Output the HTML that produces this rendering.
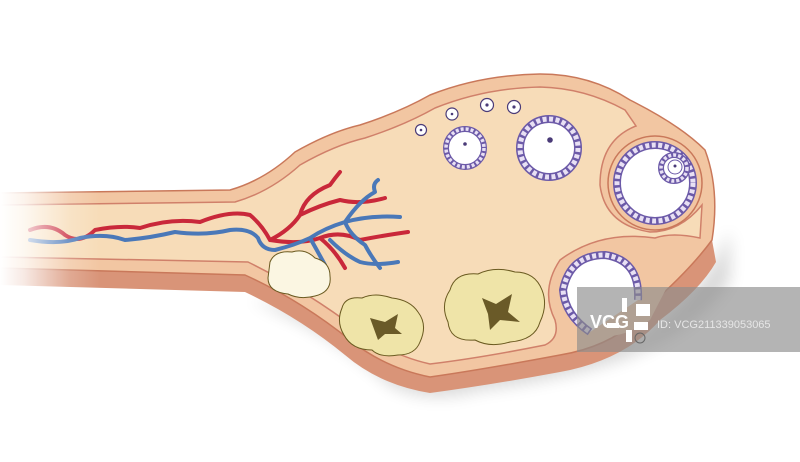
<!DOCTYPE html>
<html><head><meta charset="utf-8"><style>
html,body{margin:0;padding:0;background:#fff;width:800px;height:462px;overflow:hidden}
svg{display:block}
</style></head><body>
<svg width="800" height="462" viewBox="0 0 800 462" xmlns="http://www.w3.org/2000/svg">
<defs>
<linearGradient id="fade" x1="0" x2="1" y1="0" y2="0">
<stop offset="0" stop-color="#fff" stop-opacity="1"/>
<stop offset="0.12" stop-color="#fff" stop-opacity="0.8"/>
<stop offset="0.35" stop-color="#fff" stop-opacity="0.2"/>
<stop offset="0.5" stop-color="#fff" stop-opacity="0"/>
</linearGradient>
<filter id="sh" x="-10%" y="-10%" width="130%" height="140%"><feGaussianBlur stdDeviation="8"/></filter>
</defs>
<path d="M250 300 Q330 330 390 385 Q430 405 480 390 Q560 380 620 360 Q700 330 730 280 L730 230 Q700 300 640 340 Z" fill="#000" opacity="0.15" filter="url(#sh)"/>
<path d="M0 268 L245 275 Q300 300 350 340 Q385 368 430 377 Q480 370 560 355 Q620 345 650 305 Q690 270 712 240 L716 262 Q700 290 660 320 Q625 360 560 372 Q490 385 430 393 Q380 385 345 355 Q300 318 245 292 L0 285 Z" fill="#d99478"/>
<path d="M0 193 L230 190 Q265 180 295 152 Q330 132 360 125 Q400 112 430 95 Q480 75 540 74 Q590 74 630 100 Q680 125 705 150 Q720 190 712 240 Q690 270 650 305 Q620 345 560 355 Q480 370 430 377 Q385 368 350 340 Q300 300 245 275 L0 268 Z" fill="#f2c6a2" stroke="#c9785a" stroke-width="1.5"/>
<path d="M0 205 L235 202 Q270 192 300 165 Q335 145 365 138 Q405 125 435 108 Q485 88 540 87 Q585 88 625 110 L636 126 Q600 140 600 185 Q605 225 650 232 Q680 232 702 205 L700 238 Q672 232 655 238 Q600 230 560 260 Q540 290 555 320 Q560 338 545 345 Q480 358 430 364 Q390 355 358 330 Q305 290 248 262 L0 257 Z" fill="#f7dcb8" stroke="#d0806a" stroke-width="1.5"/>
<circle cx="655" cy="183" r="47" fill="#f2c6a2" stroke="#c9785a" stroke-width="1.5"/>
<path d="M600 258 Q640 235 680 262 L650 320 Q620 340 600 335 Z" fill="#f2c6a2"/>
<g fill="none" stroke-linecap="round" stroke-linejoin="round">
<path d="M30 230 Q50 222 65 235 Q80 245 95 230 Q120 225 140 228 Q170 218 200 222 Q230 210 250 215 Q262 225 270 240 Q290 230 300 215 Q320 205 340 200 Q360 205 385 198 M300 215 Q305 195 330 185 Q335 178 340 172 M270 240 Q300 245 320 238 Q340 230 360 240 Q380 236 408 232 M320 238 Q335 250 345 268" stroke="#c9283a" stroke-width="4"/>
<path d="M30 240 Q60 245 80 238 Q105 233 125 240 Q150 238 175 232 Q205 236 230 230 Q250 228 258 238 Q262 250 275 250 Q295 245 310 238 Q325 228 345 222 Q370 215 400 217 M310 238 Q318 252 325 265 M345 222 Q350 235 365 245 Q372 258 380 268 M345 222 Q360 200 375 192 Q372 184 378 180 M330 240 Q345 255 360 262 Q375 266 398 262" stroke="#4a78b8" stroke-width="4"/>
</g>
<g fill="#fff" stroke="#4a3b78" stroke-width="1.2">
<circle cx="421" cy="130" r="5.5"/><circle cx="452" cy="114" r="6"/><circle cx="487" cy="105" r="6.5"/><circle cx="514" cy="107" r="6.5"/>
</g>
<g fill="#4a3b78"><circle cx="421" cy="130" r="1.3"/><circle cx="452" cy="114" r="1.3"/><circle cx="487" cy="105" r="1.6"/><circle cx="514" cy="107" r="1.6"/></g>
<circle cx="465" cy="148" r="19" fill="#fff" stroke="#6c5aa8" stroke-width="6"/>
<circle cx="465" cy="148" r="19" fill="none" stroke="#e8e0f4" stroke-width="3.5" stroke-dasharray="3 2"/>
<circle cx="465" cy="144" r="1.8" fill="#4a3b78"/>
<circle cx="549" cy="148" r="29" fill="#fff" stroke="#6c5aa8" stroke-width="8"/>
<circle cx="549" cy="148" r="29" fill="none" stroke="#e8e0f4" stroke-width="5" stroke-dasharray="4 2.5"/>
<circle cx="550" cy="140" r="2.8" fill="#4a3b78"/>
<circle cx="655" cy="183" r="38" fill="#fff" stroke="#6c5aa8" stroke-width="8"/>
<circle cx="655" cy="183" r="38" fill="none" stroke="#e8e0f4" stroke-width="5" stroke-dasharray="4 2.5"/>
<circle cx="674" cy="168" r="13" fill="#fff" stroke="#6c5aa8" stroke-width="6"/>
<circle cx="674" cy="168" r="13" fill="none" stroke="#e8e0f4" stroke-width="3.5" stroke-dasharray="3 2"/>
<circle cx="675" cy="167" r="7" fill="#fff" stroke="#6c5aa8" stroke-width="1"/>
<circle cx="675" cy="166" r="1.5" fill="#4a3b78"/>
<path d="M638 300 Q640 260 605 255 Q570 255 563 290 Q565 315 590 332" fill="#fff" stroke="#6c5aa8" stroke-width="8"/>
<path d="M638 300 Q640 260 605 255 Q570 255 563 290 Q565 315 590 332" fill="none" stroke="#e8e0f4" stroke-width="5" stroke-dasharray="4 2.5"/>
<circle cx="640" cy="338" r="5" fill="none" stroke="#222" stroke-width="1"/>
<path d="M270 262 Q275 250 292 252 Q305 248 315 258 Q330 262 330 276 Q332 292 315 296 Q300 300 288 294 Q268 292 268 278 Z" fill="#fbf6e2" stroke="#6a5a20" stroke-width="1"/>
<path d="M342 308 Q345 296 362 298 Q375 292 392 298 Q410 300 418 312 Q428 325 420 342 Q415 355 398 355 Q380 358 372 350 Q352 350 344 335 Q336 322 342 308 Z" fill="#efe4a8" stroke="#6a5a20" stroke-width="1"/>
<path d="M370 318 L385 322 L398 314 L395 328 L402 334 L385 334 L378 340 Z" fill="#6a5a28"/>
<path d="M450 290 Q455 272 478 274 Q495 266 515 272 Q535 272 542 290 Q548 305 540 322 Q535 340 510 342 Q490 348 475 340 Q450 342 448 322 Q440 305 450 290 Z" fill="#efe4a8" stroke="#6a5a20" stroke-width="1"/>
<path d="M482 298 L496 304 L512 294 L508 312 L520 322 L500 320 L490 330 L488 314 Z" fill="#6a5a28"/>
<rect x="0" y="180" width="200" height="120" fill="url(#fade)"/>
<rect x="577" y="287" width="223" height="65" fill="#8c8c8c" opacity="0.65"/>
<text x="590" y="328" font-family="Liberation Sans, sans-serif" font-weight="bold" font-size="18" fill="#fff">VCG</text>
<g fill="#fff"><rect x="622" y="298" width="5" height="14"/><rect x="636" y="304" width="14" height="12"/><rect x="634" y="322" width="14" height="8"/><rect x="626" y="330" width="6" height="12"/><rect x="607" y="323" width="12" height="5"/></g>
<text x="657" y="328" font-family="Liberation Sans, sans-serif" font-size="11" fill="#e6e6e6">ID: VCG211339053065</text>
</svg>
</body></html>
